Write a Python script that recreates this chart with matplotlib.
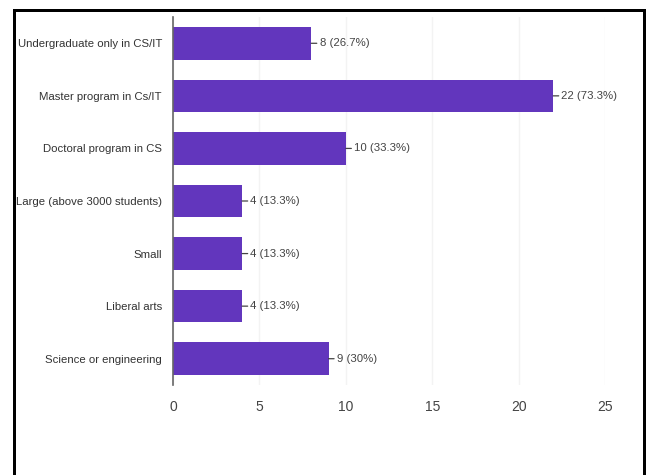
import matplotlib.pyplot as plt
from matplotlib.patches import Rectangle

# -------------------------------
# Survey data
# -------------------------------
categories = [
    "Undergraduate only in CS/IT",
    "Master program in Cs/IT",
    "Doctoral program in CS",
    "Large (above 3000 students)",
    "Small",
    "Liberal arts",
    "Science or engineering",
]
counts = [8, 22, 10, 4, 4, 4, 9]
percents = ["26.7%", "73.3%", "33.3%", "13.3%", "13.3%", "13.3%", "30%"]
x_ticks = [0, 5, 10, 15, 20, 25]

FONT = ["DejaVu Sans Condensed", "Liberation Sans Narrow", "Liberation Sans"]
BAR_COLOR = "#6236bd"

W, H = 647, 475
fig = plt.figure(figsize=(W / 100, H / 100), dpi=100)
fig.patch.set_facecolor("white")

# Frame around the chart (open at the bottom)
for (x0, y0, w, h) in [(13, 9, 3, H - 9), (643, 9, 3, H - 9), (13, 9, 633, 3)]:
    fig.add_artist(Rectangle((x0 / W, 1 - (y0 + h) / H), w / W, h / H,
                             transform=fig.transFigure, color="black", lw=0))

ax = fig.add_axes([173 / W, 1 - 385 / H, (605 - 173) / W, (385 - 17) / H])

y_pos = list(range(len(categories)))
ax.barh(y_pos, counts, height=0.62, color=BAR_COLOR, zorder=3)

ax.set_xlim(0, 25)
ax.set_ylim(len(categories) - 0.5, -0.5)
ax.set_xticks(x_ticks)
ax.set_xticklabels([str(t) for t in x_ticks], family=FONT, stretch="condensed",
                   fontsize=10, color="#444444")
ax.set_yticks(y_pos)
ax.set_yticklabels(categories, family=FONT, stretch="condensed",
                   fontsize=8.2, color="#333333")
ax.tick_params(axis="both", length=0)
ax.tick_params(axis="x", pad=11)
ax.tick_params(axis="y", pad=8)

ax.grid(axis="x", color="#f3f3f3", lw=1, zorder=0)
for side in ["top", "right", "bottom"]:
    ax.spines[side].set_visible(False)
ax.spines["left"].set_color("#666666")
ax.spines["left"].set_linewidth(1.2)
ax.spines["left"].set_zorder(4)

# Value labels with a short leader line
for y, c, p in zip(y_pos, counts, percents):
    ax.annotate(f"{c} ({p})", xy=(c, y), xytext=(6, 0), textcoords="offset points",
                va="center", ha="left", family=FONT, stretch="condensed",
                fontsize=8.2, color="#444444",
                arrowprops=dict(arrowstyle="-", color="#444444", lw=0.9,
                                shrinkA=0, shrinkB=0))

fig.savefig("out.png", dpi=100)
